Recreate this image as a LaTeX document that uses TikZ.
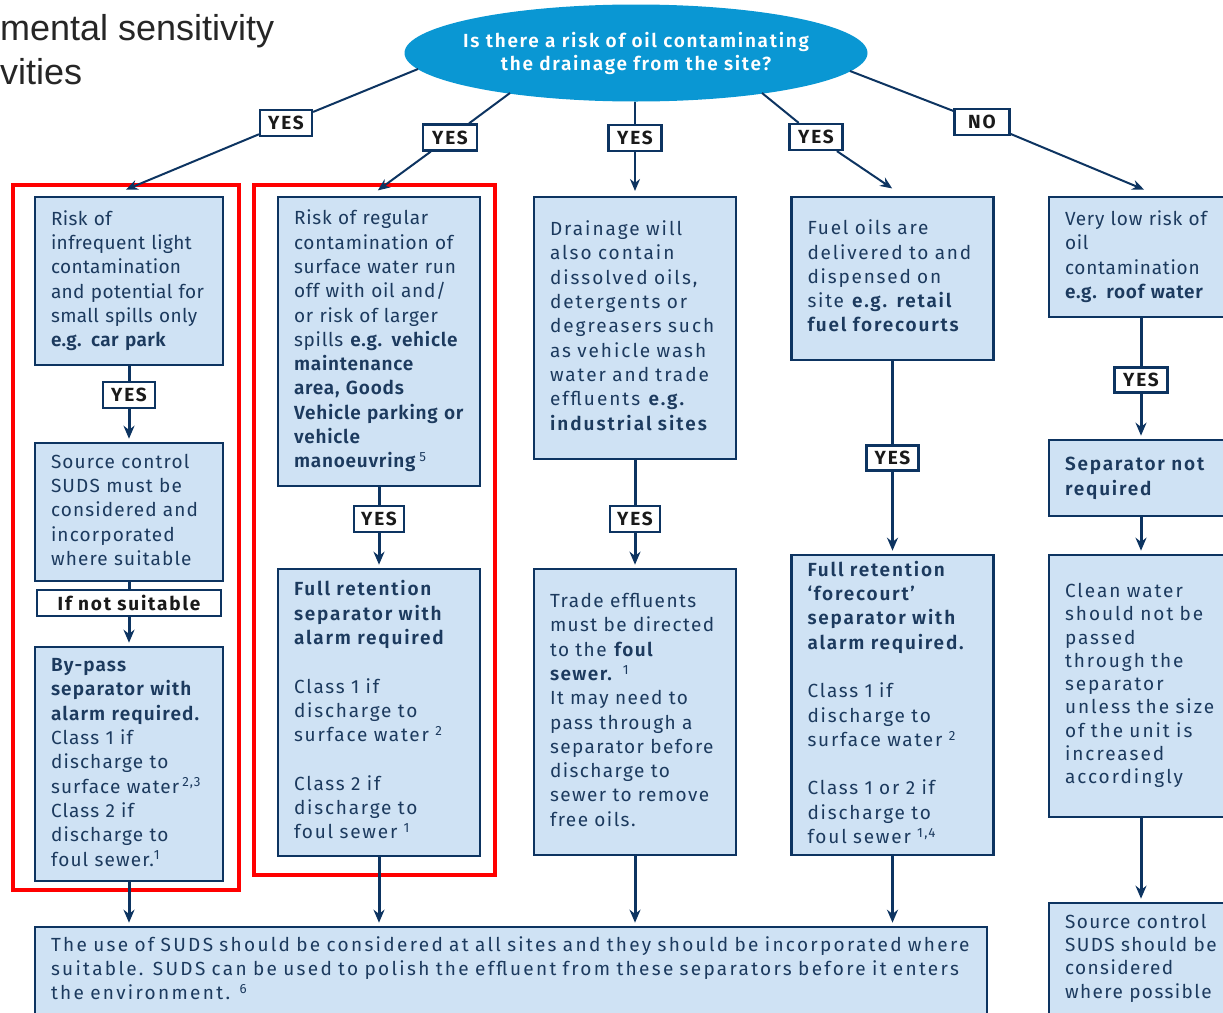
\documentclass[tikz,border=0pt]{standalone}
\usepackage{fontspec}
\setmainfont{Fira Sans}
\newfontfamily\fZ[LetterSpace=2, BoldFont={Fira Sans SemiBold}]{Fira Sans}
\newfontfamily\fA[LetterSpace=4, BoldFont={Fira Sans SemiBold}]{Fira Sans}
\newfontfamily\fB[LetterSpace=6, BoldFont={Fira Sans SemiBold}]{Fira Sans}
\newfontfamily\fC[LetterSpace=7.5, BoldFont={Fira Sans SemiBold}]{Fira Sans}
\newfontfamily\fD[LetterSpace=9.5, BoldFont={Fira Sans SemiBold}]{Fira Sans}
\newfontfamily\fE[LetterSpace=10.5, BoldFont={Fira Sans SemiBold}]{Fira Sans}
\newfontfamily\fF[LetterSpace=12.2, BoldFont={Fira Sans SemiBold}]{Fira Sans}
\newfontfamily\fL[LetterSpace=9.5]{Fira Sans}
\newfontfamily\fQ[LetterSpace=9, BoldFont={Fira Sans SemiBold}]{Fira Sans}
\newfontfamily\titlefont{Liberation Sans}
\usetikzlibrary{arrows.meta,shapes.geometric}
\definecolor{navy}{HTML}{0D3461}
\definecolor{boxfill}{HTML}{CFE2F4}
\definecolor{ellblue}{HTML}{0A97D3}
\definecolor{boxtext}{HTML}{1C3A5E}
\definecolor{titlegray}{HTML}{262626}
\definecolor{labtext}{HTML}{1A1A1A}
\newcommand\tb[1]{\noindent\begin{tabular}{@{}l@{}}#1\end{tabular}}
\newcommand\zc[1]{\makebox[0pt]{#1}}
\tikzset{
  box/.style={draw=navy, fill=boxfill, line width=2.6pt, inner sep=0pt, text=boxtext,
    font=\fB\fontsize{19}{24.3}\selectfont},
  ls2/.style={font=\fZ\fontsize{19}{24.3}\selectfont},
  ls4/.style={font=\fA\fontsize{19}{24.3}\selectfont},
  ls6/.style={font=\fB\fontsize{19}{24.3}\selectfont},
  ls7/.style={font=\fC\fontsize{19}{24.3}\selectfont},
  ls9/.style={font=\fD\fontsize{19}{24.3}\selectfont},
  ls10/.style={font=\fE\fontsize{19}{24.3}\selectfont},
  ls12/.style={font=\fF\fontsize{19}{24.3}\selectfont},
  ls10t/.style={font=\fE\fontsize{19}{23.3}\selectfont},
  ls7t/.style={font=\fC\fontsize{19}{23.3}\selectfont},
  wA/.style={minimum width=188pt, text width=156pt},
  wB/.style={minimum width=202pt, text width=170pt},
  wE/.style={minimum width=184pt, text width=152pt},
  lab/.style={draw=navy, fill=white, line width=2.2pt, inner sep=0pt, minimum height=26pt,
    text=labtext, font=\fL\bfseries\fontsize{19}{22}\selectfont},
  conn/.style={draw=navy, line width=2pt},
  arr/.style={conn, -{Stealth[length=12pt,width=10pt]}, shorten >=1pt},
  vconn/.style={draw=navy, line width=3pt},
  varr/.style={vconn, -{Stealth[length=13pt,width=11pt]}, shorten >=3pt},
  frame/.style={draw=red, line width=3.6pt}
}
\begin{document}
\begin{tikzpicture}[x=1pt,y=-1pt]
\useasboundingbox (0,0) rectangle (1223,1012);
\clip (0,0) rectangle (1223,1012);

% title fragments
\node[anchor=base west, inner sep=0pt, text=titlegray, font=\titlefont\fontsize{36}{40}\selectfont] (ttl1) at (0,40) {mental sensitivity};
\node[anchor=base west, inner sep=0pt, text=titlegray, font=\titlefont\fontsize{36}{40}\selectfont] (ttl2) at (0,84) {vities};

% question
\node[ellipse, fill=ellblue, minimum width=463pt, minimum height=97pt, inner sep=0pt, text=white,
  align=center, font=\fQ\bfseries\fontsize{19}{23}\selectfont] (el) at (636,53)
  {\zc{Is there a risk of oil contaminating}\\\zc{the drainage from the site?}};

% red frames
\draw[frame] (13,185) rectangle (239,890);
\draw[frame] (254,185) rectangle (495,875);

% column 1
\node[box, ls2, wA, minimum height=168pt] (a1) at (129,281)
 {\tb{Risk of \\ infrequent light \\ contamination \\ and potential for \\ small spills only \\ \textbf{e.g. car park}}};
\node[box, ls6, wA, minimum height=138pt] (a2) at (129,512)
 {\tb{Source control \\ SUDS must be \\ considered and \\ incorporated \\ where suitable}};
\node[box, ls6, wA, minimum height=234pt] (a3) at (129,764)
 {\tb{\textbf{By-pass} \\ \textbf{separator with} \\ \textbf{alarm required.} \\ Class 1 if \\ discharge to \\ surface water\,\textsuperscript{2,3} \\ Class 2 if \\ discharge to \\ foul sewer.\textsuperscript{1}}};

% column 2
\node[box, ls4, wB, minimum height=289pt] (b1) at (379,341.5)
 {\tb{Risk of regular \\ contamination of \\ surface water run \\ off with oil and/ \\ or risk of larger \\ spills \textbf{e.g. vehicle} \\ \textbf{maintenance} \\ \textbf{area, Goods} \\ \textbf{Vehicle parking or} \\ \textbf{vehicle} \\ \textbf{manoeuvring}\,\textsuperscript{5}}};
\node[box, ls9, wB, minimum height=287pt] (b2) at (379,712.5)
 {\tb{\textbf{Full retention} \\ \textbf{separator with} \\ \textbf{alarm required} \\ \\ Class 1 if \\ discharge to \\ surface water \textsuperscript{2} \\ \\ Class 2 if \\ discharge to \\ foul sewer \textsuperscript{1}}};

% column 3
\node[box, ls10, wB, minimum height=262pt] (c1) at (635,328)
 {\tb{Drainage will \\ also contain \\ dissolved oils, \\ detergents or \\ degreasers such \\ as vehicle wash \\ water and trade \\ effluents \textbf{e.g.} \\ \textbf{industrial sites}}};
\node[box, ls7, wB, minimum height=286pt] (c2) at (635,712)
 {\tb{Trade effluents \\ must be directed \\ to the \textbf{foul} \\ \textbf{sewer.} \textsuperscript{1} \\ It may need to \\ pass through a \\ separator before \\ discharge to \\ sewer to remove \\ free oils.}};

% column 4
\node[box, ls9, wB, minimum height=163pt] (d1) at (892.5,278.5)
 {\tb{Fuel oils are \\ delivered to and \\ dispensed on \\ site \textbf{e.g. retail} \\ \textbf{fuel forecourts}}};
\node[box, ls9, wB, minimum height=300pt] (d2) at (892.5,705)
 {\tb{\textbf{Full retention} \\ \textbf{‘forecourt’} \\ \textbf{separator with} \\ \textbf{alarm required.} \\ \\ Class 1 if \\ discharge to \\ surface water \textsuperscript{2} \\ \\ Class 1 or 2 if \\ discharge to \\ foul sewer \textsuperscript{1,4}}};

% column 5
\node[box, ls4, wE, minimum height=120pt] (e1) at (1141,257)
 {\tb{Very low risk of \\ oil \\ contamination \\ \textbf{e.g. roof water}}};
\node[box, ls9, wE, minimum height=76pt] (e2) at (1141,478)
 {\tb{\textbf{Separator not} \\ \textbf{required}}};
\node[box, ls10t, wE, minimum height=262pt] (e3) at (1141,686)
 {\tb{Clean water \\ should not be \\ passed \\ through the \\ separator \\ unless the size \\ of the unit is \\ increased \\ accordingly}};
\node[box, ls7t, wE, minimum height=111pt] (e4) at (1141,958.5)
 {\tb{Source control \\ SUDS should be \\ considered \\ where possible}};

% bottom
\node[box, ls12, minimum width=952pt, text width=920pt, minimum height=87pt] (f) at (511,970.5)
 {\tb{The use of SUDS should be considered at all sites and they should be incorporated where \\ suitable. SUDS can be used to polish the effluent from these separators before it enters \\ the environment. \textsuperscript{6}}};

% labels
\node[lab, minimum width=52pt] (y1) at (286,123) {YES};
\node[lab, minimum width=54pt] (y2) at (450,137.5) {YES};
\node[lab, minimum width=53pt] (y3) at (635,138) {YES};
\node[lab, minimum width=53pt] (y4) at (816,137) {YES};
\node[lab, minimum width=55pt] (no) at (982,122) {NO};
\node[lab, minimum width=52pt] (ya) at (129,395) {YES};
\node[lab, minimum width=50pt] (yb) at (379,519) {YES};
\node[lab, minimum width=50pt] (yc) at (635,519) {YES};
\node[lab, minimum width=52pt, minimum height=25pt] (yd) at (892.5,458) {YES};
\node[lab, minimum width=53pt, minimum height=25pt] (ye) at (1141,380) {YES};
\node[lab, minimum width=184pt] (ifn) at (129,603) {If not suitable};

% connector end points
\coordinate (s1) at (418,69);  \coordinate (t1) at (125,190);
\coordinate (s2) at (510,93);  \coordinate (t2) at (377,191);
\coordinate (t3) at (635,192);
\coordinate (s4) at (762,93);  \coordinate (t4) at (893,189);
\coordinate (s5) at (850,71);  \coordinate (t5) at (1145,190);

% top connectors
\draw[conn] (s1) -- (y1); \draw[arr] (y1) -- (t1);
\draw[conn] (s2) -- (y2); \draw[arr] (y2) -- (t2);
\draw[conn] (y3 |- el.south) -- (y3); \draw[arr] (y3) -- (t3);
\draw[conn] (s4) -- (y4); \draw[arr] (y4) -- (t4);
\draw[conn] (s5) -- (no); \draw[arr] (no) -- (t5);

% vertical connectors
\draw[vconn] (a1) -- (ya); \draw[varr] (ya) -- (a2);
\draw[vconn] (a2) -- (ifn); \draw[varr] (ifn) -- (a3);
\draw[varr] (a3.south) -- (a3.south |- f.north);
\draw[vconn] (b1) -- (yb); \draw[varr] (yb) -- (b2);
\draw[varr] (b2.south) -- (b2.south |- f.north);
\draw[vconn] (c1) -- (yc); \draw[varr] (yc) -- (c2);
\draw[varr] (c2.south) -- (c2.south |- f.north);
\draw[vconn] (d1) -- (yd); \draw[varr] (yd) -- (d2);
\draw[varr] (d2.south) -- (d2.south |- f.north);
\draw[vconn] (e1) -- (ye); \draw[varr] (ye) -- (e2);
\draw[varr] (e2) -- (e3);
\draw[varr] (e3) -- (e4);
\end{tikzpicture}
\end{document}
